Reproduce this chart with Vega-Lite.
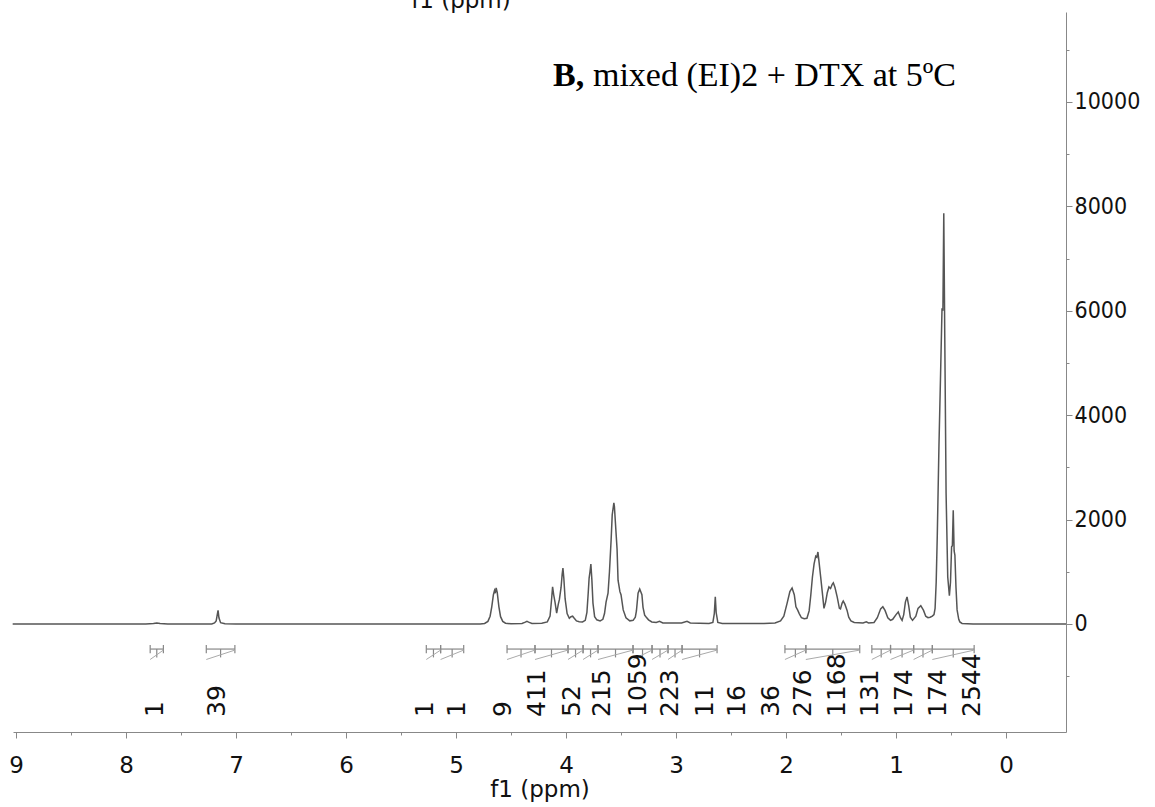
{
  "$schema": "https://vega.github.io/schema/vega-lite/v6.json",
  "width": 1053,
  "height": 720,
  "autosize": {"type": "none"},
  "padding": {"left": 13, "top": 12, "right": 89, "bottom": 75},
  "background": "white",
  "config": {"view": {"stroke": null}, "font": "DejaVu Sans"},
  "datasets": {
    "spectrum": [
      {"ppm": 9.03, "intensity": 0}, {"ppm": 7.82, "intensity": 0}, {"ppm": 7.75, "intensity": 8}, {"ppm": 7.72, "intensity": 20}, {"ppm": 7.69, "intensity": 8}, {"ppm": 7.62, "intensity": 0},
      {"ppm": 7.22, "intensity": 0}, {"ppm": 7.195, "intensity": 20}, {"ppm": 7.18, "intensity": 60}, {"ppm": 7.17, "intensity": 180}, {"ppm": 7.163, "intensity": 260}, {"ppm": 7.155, "intensity": 120}, {"ppm": 7.14, "intensity": 25}, {"ppm": 7.1, "intensity": 5}, {"ppm": 7.0, "intensity": 0},
      {"ppm": 4.78, "intensity": 0}, {"ppm": 4.74, "intensity": 10}, {"ppm": 4.71, "intensity": 50}, {"ppm": 4.69, "intensity": 150}, {"ppm": 4.675, "intensity": 330}, {"ppm": 4.66, "intensity": 560}, {"ppm": 4.65, "intensity": 640}, {"ppm": 4.643, "intensity": 590}, {"ppm": 4.635, "intensity": 690}, {"ppm": 4.625, "intensity": 600}, {"ppm": 4.61, "intensity": 330}, {"ppm": 4.595, "intensity": 140}, {"ppm": 4.575, "intensity": 50}, {"ppm": 4.55, "intensity": 15}, {"ppm": 4.5, "intensity": 5},
      {"ppm": 4.4, "intensity": 10}, {"ppm": 4.37, "intensity": 35}, {"ppm": 4.355, "intensity": 50}, {"ppm": 4.34, "intensity": 35}, {"ppm": 4.31, "intensity": 10}, {"ppm": 4.22, "intensity": 15}, {"ppm": 4.17, "intensity": 40},
      {"ppm": 4.145, "intensity": 150}, {"ppm": 4.132, "intensity": 450}, {"ppm": 4.122, "intensity": 710}, {"ppm": 4.112, "intensity": 560}, {"ppm": 4.1, "intensity": 420}, {"ppm": 4.085, "intensity": 210}, {"ppm": 4.07, "intensity": 380}, {"ppm": 4.06, "intensity": 470}, {"ppm": 4.045, "intensity": 700}, {"ppm": 4.035, "intensity": 950}, {"ppm": 4.028, "intensity": 1070}, {"ppm": 4.02, "intensity": 880}, {"ppm": 4.008, "intensity": 480}, {"ppm": 3.99, "intensity": 200}, {"ppm": 3.97, "intensity": 110}, {"ppm": 3.955, "intensity": 140}, {"ppm": 3.94, "intensity": 150}, {"ppm": 3.925, "intensity": 110}, {"ppm": 3.905, "intensity": 60}, {"ppm": 3.88, "intensity": 45}, {"ppm": 3.85, "intensity": 40},
      {"ppm": 3.825, "intensity": 70}, {"ppm": 3.81, "intensity": 220}, {"ppm": 3.798, "intensity": 600}, {"ppm": 3.79, "intensity": 880}, {"ppm": 3.782, "intensity": 1000}, {"ppm": 3.774, "intensity": 1150}, {"ppm": 3.765, "intensity": 850}, {"ppm": 3.755, "intensity": 400}, {"ppm": 3.74, "intensity": 140}, {"ppm": 3.72, "intensity": 80}, {"ppm": 3.69, "intensity": 60},
      {"ppm": 3.665, "intensity": 90}, {"ppm": 3.65, "intensity": 200}, {"ppm": 3.636, "intensity": 420}, {"ppm": 3.618, "intensity": 590}, {"ppm": 3.605, "intensity": 1000}, {"ppm": 3.59, "intensity": 1610}, {"ppm": 3.58, "intensity": 2090}, {"ppm": 3.565, "intensity": 2320}, {"ppm": 3.56, "intensity": 2250}, {"ppm": 3.545, "intensity": 1740}, {"ppm": 3.536, "intensity": 1440}, {"ppm": 3.527, "intensity": 840}, {"ppm": 3.51, "intensity": 620}, {"ppm": 3.5, "intensity": 560}, {"ppm": 3.48, "intensity": 270}, {"ppm": 3.455, "intensity": 120}, {"ppm": 3.42, "intensity": 60},
      {"ppm": 3.39, "intensity": 70}, {"ppm": 3.37, "intensity": 130}, {"ppm": 3.36, "intensity": 250}, {"ppm": 3.345, "intensity": 590}, {"ppm": 3.33, "intensity": 670}, {"ppm": 3.31, "intensity": 560}, {"ppm": 3.3, "intensity": 320}, {"ppm": 3.285, "intensity": 170}, {"ppm": 3.27, "intensity": 130}, {"ppm": 3.25, "intensity": 80}, {"ppm": 3.22, "intensity": 40}, {"ppm": 3.18, "intensity": 30}, {"ppm": 3.15, "intensity": 50}, {"ppm": 3.12, "intensity": 20},
      {"ppm": 2.95, "intensity": 20}, {"ppm": 2.9, "intensity": 50}, {"ppm": 2.87, "intensity": 20}, {"ppm": 2.7, "intensity": 10}, {"ppm": 2.665, "intensity": 30}, {"ppm": 2.652, "intensity": 200}, {"ppm": 2.643, "intensity": 520}, {"ppm": 2.635, "intensity": 220}, {"ppm": 2.62, "intensity": 30}, {"ppm": 2.58, "intensity": 10},
      {"ppm": 2.2, "intensity": 10}, {"ppm": 2.1, "intensity": 20}, {"ppm": 2.05, "intensity": 60}, {"ppm": 2.02, "intensity": 150}, {"ppm": 1.99, "intensity": 400}, {"ppm": 1.965, "intensity": 620}, {"ppm": 1.945, "intensity": 690}, {"ppm": 1.925, "intensity": 560}, {"ppm": 1.91, "intensity": 330}, {"ppm": 1.895, "intensity": 270}, {"ppm": 1.88, "intensity": 200}, {"ppm": 1.86, "intensity": 120}, {"ppm": 1.835, "intensity": 100}, {"ppm": 1.81, "intensity": 110},
      {"ppm": 1.79, "intensity": 250}, {"ppm": 1.775, "intensity": 550}, {"ppm": 1.76, "intensity": 900}, {"ppm": 1.745, "intensity": 1150}, {"ppm": 1.73, "intensity": 1300}, {"ppm": 1.72, "intensity": 1280}, {"ppm": 1.71, "intensity": 1380}, {"ppm": 1.7, "intensity": 1190}, {"ppm": 1.685, "intensity": 900}, {"ppm": 1.67, "intensity": 600}, {"ppm": 1.655, "intensity": 300}, {"ppm": 1.64, "intensity": 420}, {"ppm": 1.625, "intensity": 600}, {"ppm": 1.61, "intensity": 710}, {"ppm": 1.595, "intensity": 680}, {"ppm": 1.58, "intensity": 760}, {"ppm": 1.57, "intensity": 790}, {"ppm": 1.555, "intensity": 700}, {"ppm": 1.535, "intensity": 520}, {"ppm": 1.515, "intensity": 300}, {"ppm": 1.505, "intensity": 290}, {"ppm": 1.49, "intensity": 400}, {"ppm": 1.48, "intensity": 440}, {"ppm": 1.465, "intensity": 380}, {"ppm": 1.445, "intensity": 260}, {"ppm": 1.43, "intensity": 130}, {"ppm": 1.41, "intensity": 60}, {"ppm": 1.38, "intensity": 30},
      {"ppm": 1.3, "intensity": 20}, {"ppm": 1.27, "intensity": 40}, {"ppm": 1.25, "intensity": 20}, {"ppm": 1.2, "intensity": 30}, {"ppm": 1.17, "intensity": 120}, {"ppm": 1.14, "intensity": 290}, {"ppm": 1.12, "intensity": 330}, {"ppm": 1.1, "intensity": 260}, {"ppm": 1.075, "intensity": 120}, {"ppm": 1.05, "intensity": 70}, {"ppm": 1.03, "intensity": 90}, {"ppm": 1.0, "intensity": 180}, {"ppm": 0.98, "intensity": 230}, {"ppm": 0.96, "intensity": 120}, {"ppm": 0.945, "intensity": 70}, {"ppm": 0.93, "intensity": 180}, {"ppm": 0.915, "intensity": 420}, {"ppm": 0.9, "intensity": 520}, {"ppm": 0.885, "intensity": 350}, {"ppm": 0.87, "intensity": 130}, {"ppm": 0.85, "intensity": 70}, {"ppm": 0.82, "intensity": 150}, {"ppm": 0.8, "intensity": 300}, {"ppm": 0.775, "intensity": 350}, {"ppm": 0.75, "intensity": 260}, {"ppm": 0.73, "intensity": 150}, {"ppm": 0.71, "intensity": 120}, {"ppm": 0.69, "intensity": 130}, {"ppm": 0.67, "intensity": 150}, {"ppm": 0.655, "intensity": 180}, {"ppm": 0.645, "intensity": 300},
      {"ppm": 0.635, "intensity": 800}, {"ppm": 0.625, "intensity": 1700}, {"ppm": 0.61, "intensity": 3400}, {"ppm": 0.595, "intensity": 4800}, {"ppm": 0.582, "intensity": 6050}, {"ppm": 0.574, "intensity": 6000}, {"ppm": 0.566, "intensity": 7870}, {"ppm": 0.557, "intensity": 5500}, {"ppm": 0.545, "intensity": 2500}, {"ppm": 0.53, "intensity": 900}, {"ppm": 0.515, "intensity": 540}, {"ppm": 0.505, "intensity": 800}, {"ppm": 0.495, "intensity": 1480}, {"ppm": 0.488, "intensity": 1500}, {"ppm": 0.48, "intensity": 2180}, {"ppm": 0.472, "intensity": 1400}, {"ppm": 0.465, "intensity": 1320}, {"ppm": 0.455, "intensity": 700}, {"ppm": 0.445, "intensity": 270}, {"ppm": 0.43, "intensity": 90}, {"ppm": 0.42, "intensity": 40}, {"ppm": 0.4, "intensity": 10}, {"ppm": 0.3, "intensity": 0}, {"ppm": -0.545, "intensity": 0}
    ],
    "integrals": [
      {"id": 1, "from": 7.78, "to": 7.66},
      {"id": 2, "from": 7.27, "to": 7.01},
      {"id": 3, "from": 5.27, "to": 5.14},
      {"id": 4, "from": 5.14, "to": 4.93},
      {"id": 5, "from": 4.536, "to": 4.282},
      {"id": 6, "from": 4.282, "to": 3.982},
      {"id": 7, "from": 3.982, "to": 3.845},
      {"id": 8, "from": 3.845, "to": 3.709},
      {"id": 9, "from": 3.709, "to": 3.391},
      {"id": 10, "from": 3.391, "to": 3.218},
      {"id": 11, "from": 3.218, "to": 3.073},
      {"id": 12, "from": 3.073, "to": 2.945},
      {"id": 13, "from": 2.945, "to": 2.627},
      {"id": 14, "from": 2.01, "to": 1.82},
      {"id": 15, "from": 1.82, "to": 1.33},
      {"id": 16, "from": 1.22, "to": 1.05},
      {"id": 17, "from": 1.05, "to": 0.84},
      {"id": 18, "from": 0.84, "to": 0.67},
      {"id": 19, "from": 0.67, "to": 0.29}
    ],
    "labels": [
      {"ppm": 7.736, "value": "1"}, {"ppm": 7.173, "value": "39"}, {"ppm": 5.282, "value": "1"}, {"ppm": 4.991, "value": "1"},
      {"ppm": 4.573, "value": "9"}, {"ppm": 4.264, "value": "411"}, {"ppm": 3.945, "value": "52"}, {"ppm": 3.673, "value": "215"},
      {"ppm": 3.345, "value": "1059"}, {"ppm": 3.055, "value": "223"}, {"ppm": 2.736, "value": "11"}, {"ppm": 2.445, "value": "16"},
      {"ppm": 2.136, "value": "36"}, {"ppm": 1.845, "value": "276"}, {"ppm": 1.536, "value": "1168"}, {"ppm": 1.236, "value": "131"},
      {"ppm": 0.927, "value": "174"}, {"ppm": 0.618, "value": "174"}, {"ppm": 0.309, "value": "2544"}
    ],
    "notes": [
      {"part": "bold", "ppm": 4.118, "intensity": 10300, "text": "B,"},
      {"part": "plain", "ppm": 3.755, "intensity": 10300, "text": "mixed (EI)2 + DTX at 5ºC"},
      {"part": "cut", "ppm": 4.955, "intensity": 11800, "text": "f1 (ppm)"}
    ]
  },
  "layer": [
    {
      "data": {"name": "spectrum"},
      "mark": {"type": "line", "color": "#555555", "strokeWidth": 1.5, "interpolate": "linear"},
      "encoding": {
        "x": {
          "field": "ppm", "type": "quantitative",
          "scale": {"domain": [-0.545, 9.027], "reverse": true, "nice": false, "zero": false},
          "axis": {
            "orient": "bottom",
            "values": [0, 0.5, 1, 1.5, 2, 2.5, 3, 3.5, 4, 4.5, 5, 5.5, 6, 6.5, 7, 7.5, 8, 8.5, 9],
            "labelExpr": "datum.value % 1 === 0 ? format(datum.value, 'd') : ''",
            "tickSize": {"condition": {"test": "datum.value % 1 === 0", "value": 6}, "value": 3},
            "grid": false,
            "domainColor": "#888888", "tickColor": "#888888",
            "labelFont": "DejaVu Sans", "labelFontSize": 23, "labelColor": "#111111", "labelPadding": 16,
            "title": "f1 (ppm)", "titleFont": "DejaVu Sans", "titleFontSize": 23, "titleFontWeight": "normal", "titleColor": "#111111", "titlePadding": 1
          }
        },
        "y": {
          "field": "intensity", "type": "quantitative",
          "scale": {"domain": [-2069, 11724], "nice": false, "zero": false},
          "axis": {
            "orient": "right",
            "values": [-1000, 0, 1000, 2000, 3000, 4000, 5000, 6000, 7000, 8000, 9000, 10000, 11000],
            "labelExpr": "datum.value >= 0 && datum.value % 2000 === 0 ? format(datum.value, 'd') : ''",
            "tickSize": {"condition": {"test": "datum.value % 2000 === 0", "value": 6}, "value": 3},
            "grid": false,
            "domainColor": "#888888", "tickColor": "#888888",
            "labelFont": "DejaVu Sans Condensed", "labelFontSize": 23, "labelColor": "#111111", "labelPadding": 2,
            "title": null
          }
        }
      }
    },
    {
      "data": {"name": "integrals"},
      "mark": {"type": "rule", "color": "#888888", "strokeWidth": 1.2},
      "encoding": {
        "x": {"field": "from", "type": "quantitative"},
        "x2": {"field": "to"},
        "y": {"datum": -480, "type": "quantitative"}
      }
    },
    {
      "data": {"name": "integrals"},
      "transform": [{"fold": ["from", "to"], "as": ["edge", "bound"]}],
      "mark": {"type": "rule", "color": "#888888", "strokeWidth": 1.2},
      "encoding": {
        "x": {"field": "bound", "type": "quantitative"},
        "y": {"datum": -400, "type": "quantitative"},
        "y2": {"datum": -560}
      }
    },
    {
      "data": {"name": "integrals"},
      "transform": [
        {"fold": ["from", "to"], "as": ["edge", "bound"]},
        {"aggregate": [{"op": "mean", "field": "bound", "as": "centre"}], "groupby": ["id"]}
      ],
      "mark": {"type": "rule", "color": "#888888", "strokeWidth": 1.2},
      "encoding": {
        "x": {"field": "centre", "type": "quantitative"},
        "y": {"datum": -480, "type": "quantitative"},
        "y2": {"datum": -640}
      }
    },
    {
      "data": {"name": "integrals"},
      "mark": {"type": "rule", "color": "#aaaaaa", "strokeWidth": 1},
      "encoding": {
        "x": {"field": "from", "type": "quantitative"},
        "x2": {"field": "to"},
        "y": {"datum": -680, "type": "quantitative"},
        "y2": {"datum": -500}
      }
    },
    {
      "data": {"name": "labels"},
      "mark": {"type": "text", "angle": 270, "align": "left", "baseline": "middle", "font": "DejaVu Sans", "fontSize": 25, "color": "#111111"},
      "encoding": {
        "x": {"field": "ppm", "type": "quantitative"},
        "y": {"datum": -1782, "type": "quantitative"},
        "text": {"field": "value"}
      }
    },
    {
      "data": {"name": "notes"},
      "transform": [{"filter": "datum.part === 'bold'"}],
      "mark": {"type": "text", "align": "left", "baseline": "alphabetic", "font": "Liberation Serif", "fontSize": 34, "fontWeight": "bold", "color": "#000000"},
      "encoding": {
        "x": {"field": "ppm", "type": "quantitative"},
        "y": {"field": "intensity", "type": "quantitative"},
        "text": {"field": "text"}
      }
    },
    {
      "data": {"name": "notes"},
      "transform": [{"filter": "datum.part === 'plain'"}],
      "mark": {"type": "text", "align": "left", "baseline": "alphabetic", "font": "Liberation Serif", "fontSize": 34, "color": "#000000"},
      "encoding": {
        "x": {"field": "ppm", "type": "quantitative"},
        "y": {"field": "intensity", "type": "quantitative"},
        "text": {"field": "text"}
      }
    },
    {
      "data": {"name": "notes"},
      "transform": [{"filter": "datum.part === 'cut'"}],
      "mark": {"type": "text", "align": "center", "baseline": "alphabetic", "font": "DejaVu Sans", "fontSize": 23, "color": "#111111"},
      "encoding": {
        "x": {"field": "ppm", "type": "quantitative"},
        "y": {"field": "intensity", "type": "quantitative"},
        "text": {"field": "text"}
      }
    }
  ]
}
